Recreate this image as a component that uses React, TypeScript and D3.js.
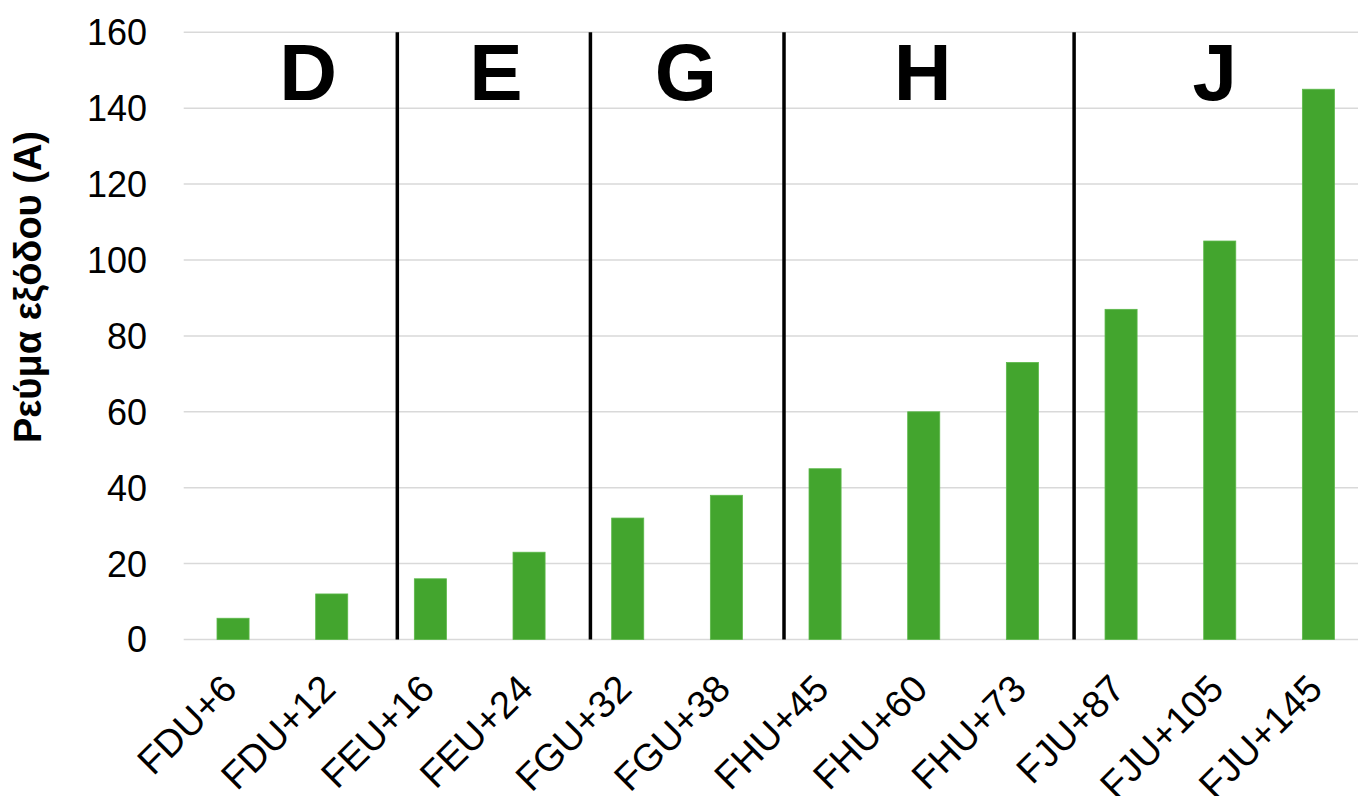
import React from "react";
import * as d3 from "d3";

const CATEGORIES = [
  "FDU+6",
  "FDU+12",
  "FEU+16",
  "FEU+24",
  "FGU+32",
  "FGU+38",
  "FHU+45",
  "FHU+60",
  "FHU+73",
  "FJU+87",
  "FJU+105",
  "FJU+145",
];
const CURRENT = [5.6, 12, 16, 23, 32, 38, 45, 60, 73, 87, 105, 145];
const Y_TICKS = [0, 20, 40, 60, 80, 100, 120, 140, 160];

// positions in category-index units (0..12)
const GROUP_LABELS = ["D", "E", "G", "H", "J"];
const GROUP_LABEL_POS = [1.26, 3.165, 5.09, 7.49, 10.45];
const SEPARATOR_POS = [2.165, 4.122, 6.084, 9.024];

const WIDTH = 1358;
const HEIGHT = 796;
const FONT = "Arial, 'Liberation Sans', sans-serif";

export default function App() {
  const left = 183.7;
  const step = 98.67;
  const right = left + step * CATEGORIES.length;
  const top = 32.3;
  const bottom = 639.5;

  const x = d3
    .scaleBand<string>()
    .domain(CATEGORIES)
    .range([left, right])
    .paddingInner(0.675)
    .paddingOuter(0.3375);
  const idx = d3.scaleLinear().domain([0, CATEGORIES.length]).range([left, right]);
  const y = d3.scaleLinear().domain([0, 160]).range([bottom, top]);

  return (
    <svg
      width={WIDTH}
      height={HEIGHT}
      viewBox={`0 0 ${WIDTH} ${HEIGHT}`}
      style={{ position: "absolute", left: 0, top: 0, background: "#fff" }}
    >
      {/* gridlines */}
      {Y_TICKS.map((t) => (
        <line
          key={`g${t}`}
          x1={left}
          x2={right}
          y1={y(t)}
          y2={y(t)}
          stroke="#d9d9d9"
          strokeWidth={1.5}
        />
      ))}

      {/* y tick labels */}
      {Y_TICKS.map((t) => (
        <text
          key={`t${t}`}
          x={147}
          y={y(t)}
          dy="0.36em"
          textAnchor="end"
          fontFamily={FONT}
          fontSize={36}
          fill="#000"
        >
          {t}
        </text>
      ))}

      {/* y title */}
      <text
        transform={`translate(41,287) rotate(-90)`}
        textAnchor="middle"
        fontFamily={FONT}
        fontWeight="bold"
        fontSize={38}
        fill="#000"
      >
        Ρεύμα εξόδου (A)
      </text>

      {/* bars */}
      {CATEGORIES.map((c, i) => (
        <rect
          key={c}
          x={x(c)}
          y={y(CURRENT[i])}
          width={x.bandwidth()}
          height={y(0) - y(CURRENT[i])}
          fill="#43a52e"
          stroke="#5cb84a"
          strokeWidth={0.8}
        />
      ))}

      {/* group separators */}
      {SEPARATOR_POS.map((p) => (
        <line
          key={`s${p}`}
          x1={idx(p)}
          x2={idx(p)}
          y1={y(160)}
          y2={y(0)}
          stroke="#000"
          strokeWidth={3.5}
        />
      ))}

      {/* group labels */}
      {GROUP_LABELS.map((g, i) => (
        <text
          key={g}
          x={idx(GROUP_LABEL_POS[i])}
          y={100}
          textAnchor="middle"
          fontFamily={FONT}
          fontWeight="bold"
          fontSize={80}
          fill="#000"
        >
          {g}
        </text>
      ))}

      {/* x tick labels */}
      {CATEGORIES.map((c) => {
        const cx = (x(c) ?? 0) + x.bandwidth() / 2;
        return (
          <text
            key={`x${c}`}
            transform={`translate(${cx + 6},${y(0) + 51.5}) rotate(-45)`}
            textAnchor="end"
            fontFamily={FONT}
            fontSize={38}
            fill="#000"
          >
            {c}
          </text>
        );
      })}
    </svg>
  );
}
